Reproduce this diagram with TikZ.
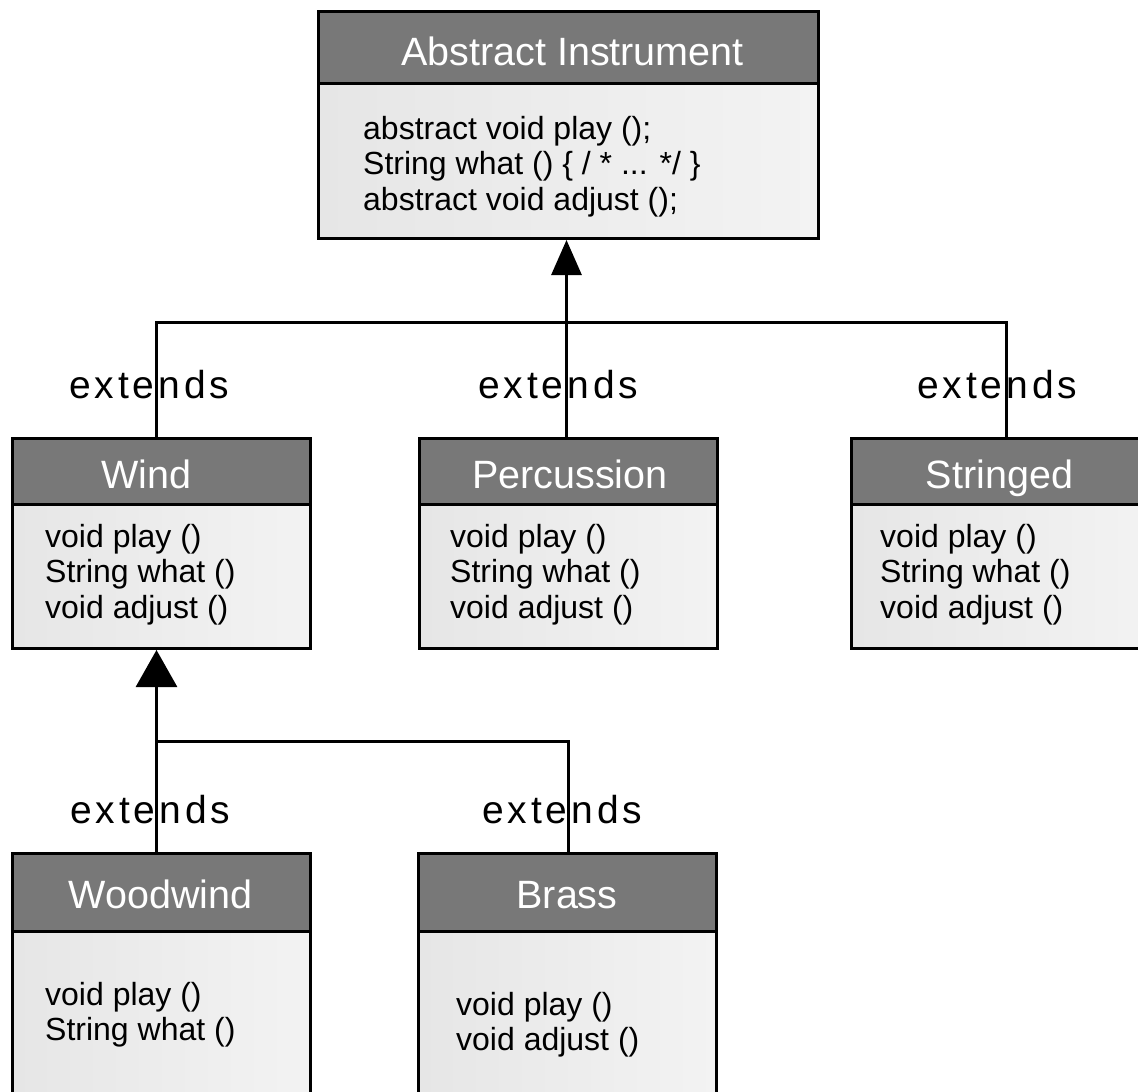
\documentclass[tikz,border=0pt]{standalone}
\usepackage{fontspec}
\usetikzlibrary{arrows.meta}
\setmainfont{Liberation Sans}
\newfontfamily\umlfont{Liberation Sans}
\newfontfamily\extfont[LetterSpace=10]{Liberation Sans}
\definecolor{hdrgray}{HTML}{787878}
\definecolor{bodyL}{HTML}{E6E6E6}
\definecolor{bodyR}{HTML}{F3F3F3}
\tikzset{
  hdr/.style={draw=black, line width=3pt, fill=hdrgray, rectangle, anchor=north west, inner sep=0pt},
  bodybox/.style={draw=black, line width=3pt, left color=bodyL, right color=bodyR, rectangle, anchor=north west, inner sep=0pt},
  title/.style={anchor=base, inner sep=0pt, text=white, font={\umlfont\fontsize{39.5}{47}\selectfont}},
  ops/.style={anchor=north west, align=left, inner sep=0pt, font={\umlfont\fontsize{32}{35.5}\selectfont}},
  ext/.style={anchor=base west, inner sep=0pt, font={\extfont\fontsize{39}{44}\selectfont}},
  conn/.style={line width=3pt, draw=black},
  inh/.style={-{Triangle[length=35pt, width=30pt]}},
  inhwide/.style={-{Triangle[length=37pt, width=41pt]}}
}
\begin{document}
\begin{tikzpicture}[x=1pt, y=-1pt]
\useasboundingbox (0,0) rectangle (1138,1092);
\clip (0,0) rectangle (1138,1092);

% ---------- Abstract Instrument ----------
\node[hdr, minimum width=500pt, minimum height=72pt] (instH) at (317,10) {};
\node[bodybox, minimum width=500pt, minimum height=155pt] (instB) at (317,82) {};
\node[title] (instT) at (572.5,65) {Abstract Instrument};
\node[ops] (instO) at (363,116) {abstract void play ();\\String what () \{ / * ... */ \}\\abstract void adjust ();};

% ---------- Wind ----------
\node[hdr, minimum width=298pt, minimum height=66pt] (windH) at (11,437) {};
\node[bodybox, minimum width=298pt, minimum height=144pt] (windB) at (11,503) {};
\node[title] (windT) at (146,488) {Wind};
\node[ops] (windO) at (45,524) {void play ()\\String what ()\\void adjust ()};

% ---------- Percussion ----------
\node[hdr, minimum width=298pt, minimum height=66pt] (percH) at (418,437) {};
\node[bodybox, minimum width=298pt, minimum height=144pt] (percB) at (418,503) {};
\node[title] (percT) at (570,488) {Percussion};
\node[ops] (percO) at (450,524) {void play ()\\String what ()\\void adjust ()};

% ---------- Stringed ----------
\node[hdr, minimum width=301pt, minimum height=66pt] (strH) at (850,437) {};
\node[bodybox, minimum width=301pt, minimum height=144pt] (strB) at (850,503) {};
\node[title] (strT) at (999.5,488) {Stringed};
\node[ops] (strO) at (880,524) {void play ()\\String what ()\\void adjust ()};

% ---------- Woodwind ----------
\node[hdr, minimum width=298pt, minimum height=78pt] (wwH) at (11,852) {};
\node[bodybox, minimum width=298pt, minimum height=220pt] (wwB) at (11,930) {};
\node[title] (wwT) at (160.5,908) {Woodwind};
\node[ops] (wwO) at (45,982) {void play ()\\String what ()};

% ---------- Brass ----------
\node[hdr, minimum width=298pt, minimum height=78pt] (brH) at (417,852) {};
\node[bodybox, minimum width=298pt, minimum height=220pt] (brB) at (417,930) {};
\node[title] (brT) at (567,908) {Brass};
\node[ops] (brO) at (456,992) {void play ()\\void adjust ()};

% ---------- inheritance connectors ----------
\coordinate (bus1) at (565,322);
\coordinate (bus2) at (155,741);

\draw[conn] ([xshift=-5pt]windH.north) |- (bus1) -| ([xshift=4.5pt]strH.north);
\draw[conn, inh] ([xshift=-2pt]percH.north) -- ([xshift=-2pt]instB.south);

\draw[conn] ([xshift=1pt]brH.north) |- (bus2);
\draw[conn, inhwide] ([xshift=-5pt]wwH.north) -- ([xshift=-5pt]windB.south);

% ---------- labels ----------
\node[ext] (e1) at (69,398) {extends};
\node[ext] (e2) at (478,398) {extends};
\node[ext] (e3) at (917,398) {extends};
\node[ext] (e4) at (70,823) {extends};
\node[ext] (e5) at (482,823) {extends};

% connector strokes run over the label text
\draw[conn] ([xshift=-5pt]windH.north) -- ++(0,-60);
\draw[conn] ([xshift=-2pt]percH.north) -- ++(0,-60);
\draw[conn] ([xshift=4.5pt]strH.north) -- ++(0,-60);
\draw[conn] ([xshift=-5pt]wwH.north) -- ++(0,-60);
\draw[conn] ([xshift=1pt]brH.north) -- ++(0,-60);
\end{tikzpicture}
\end{document}
